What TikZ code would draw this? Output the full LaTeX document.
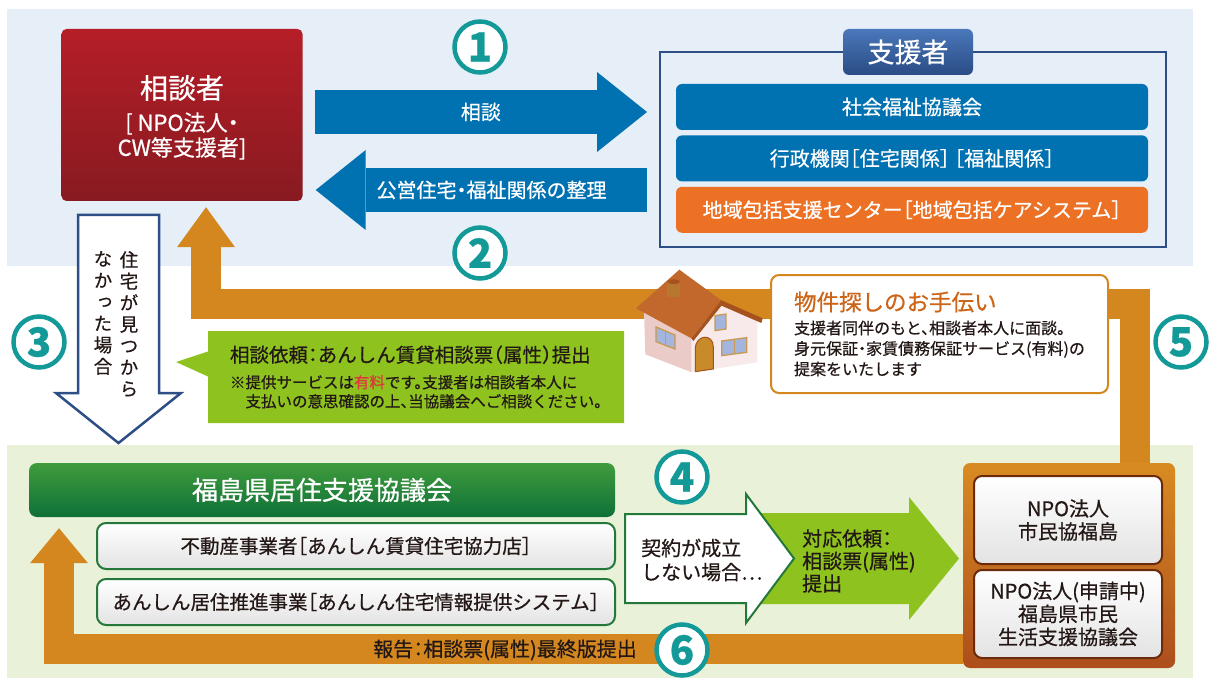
\documentclass[tikz,border=0pt]{standalone}
\usepackage{fontspec}
\setmainfont{Noto Sans CJK JP}[RawFeature=+halt, FakeBold=0.6]
\newfontfamily\tatefont{Noto Sans CJK JP}[RawFeature=+vert, FakeBold=0.6]
\usetikzlibrary{arrows.meta,positioning,calc,shapes.callouts}
\definecolor{PanelBlue}{HTML}{E6EEF8}
\definecolor{PanelGreen}{HTML}{E9F2D8}
\definecolor{SodanTop}{HTML}{B51E27}
\definecolor{SodanBottom}{HTML}{881A21}
\definecolor{ShienBlue}{HTML}{0071B1}
\definecolor{FrameBlue}{HTML}{2D4F85}
\definecolor{TabTop}{HTML}{4A78BA}
\definecolor{TabBottom}{HTML}{2A4B85}
\definecolor{CareOrange}{HTML}{EC7125}
\definecolor{LoopOrange}{HTML}{D4871F}
\definecolor{NumTeal}{HTML}{139A98}
\definecolor{CallGreen}{HTML}{8DC21F}
\definecolor{KyoTop}{HTML}{409C3C}
\definecolor{KyoBottom}{HTML}{0E7038}
\definecolor{SubEdge}{HTML}{23783A}
\definecolor{SubGray}{HTML}{E3E3E3}
\definecolor{NpoTop}{HTML}{D88B22}
\definecolor{NpoBottom}{HTML}{AD4E1C}
\definecolor{NpoEdge}{HTML}{6B2A0B}
\definecolor{Ink}{HTML}{231815}
\definecolor{BukkenTitle}{HTML}{CC6518}
\definecolor{PaidRed}{HTML}{E0373F}
\definecolor{WallSide}{HTML}{EBCBC7}
\definecolor{WallFront}{HTML}{F8EAEA}
\definecolor{RoofBrown}{HTML}{C2682C}
\definecolor{RoofEdge}{HTML}{A5521F}
\definecolor{ChimneyBrown}{HTML}{B8772F}
\definecolor{WinGlass}{HTML}{A3B5DC}
\definecolor{WinFrame}{HTML}{C89A52}
\definecolor{DoorBrown}{HTML}{C98A2A}
\newcommand\fsz[2]{\fontsize{#1}{#2}\selectfont}
\tikzset{
  numcircle/.style={circle, draw=NumTeal, line width=4.5pt, fill=white, minimum size=51pt,
                    inner sep=0pt, text=NumTeal, font=\bfseries\fsz{40}{44}},
  bigarrow/.style={draw=ShienBlue, line width=44pt, -{Triangle[length=50pt,width=80pt,line width=0pt]}},
  backflow/.style={draw=LoopOrange, line width=30pt, line join=miter,
                   -{Triangle[length=#1,width=58pt,line width=0pt]}},
  sodanbox/.style={rounded corners=5pt, top color=SodanTop, bottom color=SodanBottom,
                   minimum width=241pt, minimum height=172pt, inner sep=0pt},
  whitetext/.style={text=white, align=center, inner sep=0pt},
  inktext/.style={text=Ink, inner sep=0pt},
  shienframe/.style={draw=FrameBlue, line width=2pt, minimum width=506pt, minimum height=195pt, inner sep=0pt},
  shientab/.style={rounded corners=6pt, top color=TabTop, bottom color=TabBottom, text=white,
                   minimum width=130pt, minimum height=46pt, inner sep=0pt, font=\fsz{27}{30}},
  shienbar/.style={rounded corners=6pt, fill=ShienBlue, text=white, minimum width=472pt,
                   minimum height=46pt, inner sep=0pt, font=\fsz{20}{24}},
  downarrow/.style={draw=FrameBlue, line width=2.5pt, fill=white, line join=miter},
  tate/.style={text=Ink, align=center, inner sep=0pt, font=\tatefont\fsz{18.5}{21.5}},
  iraicallout/.style={rectangle callout, fill=CallGreen, minimum width=416pt, minimum height=92pt,
                      callout pointer width=25pt, inner sep=0pt, align=left, text=Ink, font=\fsz{15.5}{19}},
  bukkenbox/.style={draw=LoopOrange, line width=2pt, rounded corners=8pt, fill=white, minimum width=337pt,
                    minimum height=118pt, inner sep=0pt, align=left, text=Ink, font=\fsz{16}{20.5}},
  kyobox/.style={rounded corners=8pt, top color=KyoTop, bottom color=KyoBottom, text=white,
                 minimum width=586pt, minimum height=54pt, inner sep=0pt, font=\fsz{26}{30}},
  subbox/.style={draw=SubEdge, line width=2pt, rounded corners=9pt, top color=white, bottom color=SubGray,
                 minimum width=518pt, minimum height=46pt, inner sep=0pt, text=Ink, font=\fsz{19.5}{22}},
  keiyaku/.style={draw=SubEdge, line width=2pt, fill=white, line join=miter},
  npobox/.style={rounded corners=7pt, top color=NpoTop, bottom color=NpoBottom,
                 minimum width=212pt, minimum height=205pt, inner sep=0pt},
  npoin/.style={draw=NpoEdge, line width=2pt, rounded corners=8pt, top color=white, bottom color=SubGray,
                minimum width=188pt, minimum height=88pt, inner sep=0pt, align=center, text=Ink, font=\fsz{20}{23}},
}

\begin{document}
\begin{tikzpicture}[x=1pt,y=-1pt]
  \useasboundingbox (0,0) rectangle (1210,679);
  % two bands
  \fill[PanelBlue] (7,9) rectangle (1193,266);
  \fill[PanelGreen] (7,445) rectangle (1193,678);

  % nodes the orange returns attach to
  \node[sodanbox] (sodan) at (182,115) {};
  \node[whitetext, font=\fsz{28}{30}] (sodantitle) at (182,88) {相談者};
  \node[whitetext, font=\fsz{22}{25}] (sodansub) at (182,136) {[ NPO法人・\\CW等支援者]};
  \node[npobox] (npo) at (1069,565.5) {};
  \node[kyobox] (kyogi) at (322,490) {福島県居住支援協議会};

  % orange returns (5) and (6)
  \coordinate (turn5) at (1135,304);
  \coordinate (elbow5) at (206,304);
  \draw[backflow=40pt] (npo.north -| turn5) -- (turn5) -- (elbow5) -- ($(elbow5 |- sodan.south)+(0,6)$);
  \coordinate (turn6) at (59,649);
  \draw[backflow=35pt] (npo.west |- turn6) -- (turn6) -- ($(turn6 |- kyogi.south)+(0,11)$);
  \node[inktext, font=\fsz{20}{24}, anchor=east] (hokoku) at (637,650) {報告：相談票(属性)最終版提出};

  % supporters
  \node[shienframe] (shien) at (913,149.5) {};
  \node[shientab] (shientitle) at (908,52) {支援者};
  \node[shienbar] (shakyo) at (912,107) {社会福祉協議会};
  \node[shienbar, below=5pt of shakyo] (gyosei) {行政機関［住宅関係］ ［福祉関係］};
  \node[shienbar, fill=CareOrange, below=5pt of gyosei] (chiiki) {地域包括支援センター［地域包括ケアシステム］};

  \coordinate (row1) at (0,112);
  \coordinate (row2) at (0,190);
  \draw[bigarrow, shorten <=12pt, shorten >=12pt] (sodan.east |- row1) -- (shien.west |- row1)
    node[midway, whitetext, font=\fsz{20}{24}] {相談};
  \draw[bigarrow, shorten <=12pt, shorten >=13pt] (shien.west |- row2) -- (sodan.east |- row2)
    node[pos=0.47, whitetext, font=\fsz{20}{24}] {公営住宅・福祉関係の整理};

  % (3) not found
  \draw[downarrow] (78,215) -- (159,215) -- (159,393) -- (181,393) -- (118.5,443) -- (56,393) -- (78,393) -- cycle;
  \node[tate] (tate1) at (129,324) {住\\宅\\が\\見\\つ\\か\\ら};
  \node[tate] (tate2) at (103,313) {な\\か\\っ\\た\\場\\合};

  \node[iraicallout, callout absolute pointer={(176,362)}] (irai) at (416,377)
    {\fsz{19.5}{22}相談依頼：あんしん賃貸相談票（属性）提出\\[7pt]
     ※提供サービスは\textcolor{PaidRed}{有料}です。支援者は相談者本人に\\
     \hspace*{1em}支払いの意思確認の上、当協議会へご相談ください。};

  % house
  \begin{scope}[shift={(620,265)}, scale=0.3333]
    \fill[WallSide] (72,138) -- (215,212) -- (215,322) -- (76,268) -- cycle;
    \fill[WallFront] (215,212) -- (300,118) -- (412,168) -- (412,292) -- (215,322) -- cycle;
    \fill[RoofEdge] (300,104) -- (428,160) -- (424,174) -- (300,120) -- cycle;
    \fill[RoofBrown] (48,130) -- (178,14) -- (304,106) -- (214,220) -- cycle;
    \fill[RoofEdge] (214,220) -- (304,106) -- (306,120) -- (220,228) -- cycle;
    \fill[ChimneyBrown] (142,50) rectangle (180,96);
    \fill[RoofEdge] (161,50) ellipse (19 and 7);
    \draw[WinFrame, fill=WinGlass, line width=1.3pt] (108,186) -- (165,210) -- (165,252) -- (108,230) -- cycle;
    \draw[WinFrame, fill=WinGlass, line width=1.3pt] (285,152) -- (318,147) -- (318,192) -- (285,197) -- cycle;
    \draw[WinFrame, fill=WinGlass, line width=1.3pt] (305,228) -- (380,218) -- (380,262) -- (305,272) -- cycle;
    \draw[WinFrame, line width=1pt] (136.5,198) -- (136.5,241) (342.5,223) -- (342.5,267);
    \draw[RoofEdge, fill=DoorBrown, line width=1pt] (226,320) -- (226,252) .. controls (226,208) and (280,204) .. (280,246) -- (280,312) -- cycle;
  \end{scope}

  \node[bukkenbox] (bukken) at (939.5,334)
    {\textcolor{BukkenTitle}{\fsz{22.5}{26}物件探しのお手伝い}\\[3pt]
     支援者同伴のもと、相談者本人に面談。\\
     身元保証・家賃債務保証サービス(有料)の\\
     提案をいたします};

  % council and members
  \node[subbox] (fudosan) at (356,546) {不動産事業者［あんしん賃貸住宅協力店］};
  \node[subbox, below=8pt of fudosan] (anshin) {あんしん居住推進事業［あんしん住宅情報提供システム］};

  % (4) hand-over
  \fill[CallGreen] (740,513) -- (909,513) -- (909,497) -- (959,558.5) -- (909,620) -- (909,604) -- (740,604) -- cycle;
  \draw[keiyaku] (625,514) -- (746,514) -- (746,494) -- (794,558.5) -- (746,623) -- (746,603) -- (625,603) -- cycle;
  \node[inktext, align=left, font=\fsz{20}{24}, anchor=west] (fuseiritsu) at (641,560) {契約が成立\\しない場合…};
  \node[inktext, align=left, font=\fsz{20}{22.5}, anchor=west] (taiou) at (802,561) {対応依頼：\\相談票(属性)\\提出};

  \node[npoin] (shimin) at (1068,520) {NPO法人\\市民協福島};
  \node[npoin, below=4pt of shimin] (seikatsu) {NPO法人(申請中)\\福島県市民\\生活支援協議会};

  % step numbers
  \node[numcircle] (n1) at (480,47) {1};
  \node[numcircle] (n2) at (480,253) {2};
  \node[numcircle] (n3) at (39,342) {3};
  \node[numcircle] (n4) at (682,477) {4};
  \node[numcircle] (n5) at (1181,342) {5};
  \node[numcircle] (n6) at (682,650) {6};
\end{tikzpicture}
\end{document}
